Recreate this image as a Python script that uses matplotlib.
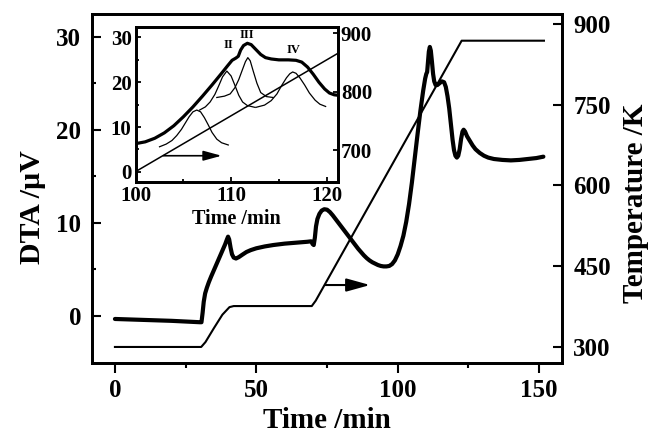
import matplotlib
matplotlib.use("Agg")
import matplotlib.pyplot as plt
from matplotlib.ticker import FixedLocator

plt.rcParams['font.family'] = ['Liberation Serif', 'DejaVu Serif']
plt.rcParams['font.weight'] = 'bold'

# ---------------- main chart data ----------------
dta_time = [0, 10, 20, 30, 30.6, 31.0, 31.4, 31.9, 32.5, 33.2, 34, 35, 36, 37, 38, 39,
            39.6, 40.0, 40.4, 40.9, 41.4, 42, 42.8, 43.8, 45, 46.5, 48, 50, 53, 56, 60,
            64, 68, 69.4, 69.9, 70.3, 70.7, 71.1, 71.6, 72.3, 73.1, 74, 75, 76, 77, 78,
            79, 80, 81, 82, 83, 84, 85, 86, 87, 88, 89, 90, 91, 92, 93, 94, 95, 96, 97,
            98, 99, 100, 101, 102, 103, 104, 105, 106, 107, 108, 109, 109.7, 110.1,
            110.4, 110.7, 111.0, 111.35, 111.7, 112.1, 112.5, 112.9, 113.4, 114, 114.8,
            115.6, 116.4, 117, 117.6, 118.2, 118.8, 119.4, 119.9, 120.4, 120.9, 121.4,
            121.9, 122.4, 122.9, 123.3, 123.8, 124.5, 125.5, 126.5, 127.5, 129, 130.5,
            132, 134, 137, 140, 143, 146, 149, 151.5]
dta_value = [-0.35, -0.45, -0.55, -0.7, -0.7, 0.3, 1.5, 2.4, 3.0, 3.6, 4.2, 4.9, 5.6, 6.3,
             7.0, 7.7, 8.2, 8.5, 8.2, 7.3, 6.6, 6.25, 6.15, 6.3, 6.55, 6.85, 7.05, 7.25,
             7.45, 7.6, 7.75, 7.85, 7.95, 8.0, 7.7, 7.6, 8.4, 9.6, 10.4, 10.95, 11.3,
             11.45, 11.4, 11.15, 10.8, 10.4, 10.0, 9.6, 9.2, 8.8, 8.4, 8.0, 7.6, 7.2,
             6.85, 6.5, 6.2, 5.95, 5.75, 5.6, 5.45, 5.35, 5.3, 5.3, 5.35, 5.55, 5.95,
             6.6, 7.5, 8.6, 10.1, 12.0, 14.3, 16.9, 19.5, 22.0, 24.2, 25.5, 26.0, 26.2,
             27.3, 28.4, 28.9, 28.5, 27.3, 26.0, 25.2, 24.8, 24.8, 25.0, 25.2, 25.1,
             24.6, 23.6, 22.3, 20.6, 18.9, 17.8, 17.2, 17.0, 17.2, 17.9, 19.0, 19.8,
             20.0, 19.8, 19.3, 18.8, 18.3, 17.9, 17.5, 17.2, 17.0, 16.85, 16.75, 16.7,
             16.75, 16.85, 16.95, 17.1]

temp_time = [0, 30.5, 32, 35, 38, 40.5, 42, 69.6, 71, 122.6, 151.7]
temp_value = [300, 300, 309, 335, 360, 374, 376, 376, 386, 869, 869]

main_arrow_x = [74.3, 90.2]
main_arrow_y = 3.3

# ---------------- inset data ----------------
inset_time = [100, 101, 102, 103, 104, 105, 106, 107, 108, 109, 109.6, 110.1, 110.5,
              110.75, 111.0, 111.3, 111.7, 112.1, 112.6, 113.1, 113.6, 114.2, 115, 116,
              116.8, 117.4, 118, 118.6, 119.2, 119.8, 120.3, 120.8, 121.2]
inset_value = [6.3, 6.7, 7.5, 8.7, 10.3, 12.3, 14.5, 16.9, 19.4, 22.0, 23.6, 24.9, 25.4,
               25.8, 27.2, 28.2, 28.7, 28.4, 27.3, 26.2, 25.5, 25.2, 25.0, 25.0, 24.9,
               24.5, 23.4, 21.8, 20.0, 18.5, 17.6, 17.2, 17.1]

peak1_time = [102.5, 103.2, 103.8, 104.3, 104.8, 105.2, 105.6, 106.0, 106.4, 106.8, 107.2,
              107.6, 108.0, 108.5, 109.0, 109.7]
peak1_value = [5.6, 6.2, 7.0, 8.1, 9.5, 10.9, 12.3, 13.4, 13.8, 13.4, 12.1, 10.5, 8.8,
               7.3, 6.5, 6.0]

peak2_time = [106.7, 107.3, 107.8, 108.3, 108.7, 109.1, 109.55, 110.0, 110.4, 110.8,
              111.2, 111.7, 112.5]
peak2_value = [13.8, 14.5, 15.6, 17.3, 19.2, 21.2, 22.5, 21.4, 19.3, 17.1, 15.6, 14.8, 14.4]

peak3_time = [108.5, 109.3, 109.9, 110.4, 110.8, 111.2, 111.5, 111.75, 112.0, 112.3,
              112.7, 113.1, 113.7, 114.4]
peak3_value = [16.6, 16.9, 17.4, 18.8, 20.6, 22.9, 24.6, 25.5, 24.8, 22.6, 19.8, 17.7,
               16.8, 16.6]

peak4_time = [112.6, 113.5, 114.2, 114.8, 115.3, 115.8, 116.15, 116.45, 116.8, 117.2,
              117.7, 118.2, 118.8, 119.3, 119.9]
peak4_value = [14.4, 14.9, 15.9, 17.4, 19.3, 21.0, 21.9, 22.3, 22.0, 21.0, 19.4, 17.6,
               16.0, 15.1, 14.6]

inset_temp_time = [100, 121.2]
inset_temp_value = [663, 866]

inset_arrow_x = [102.9, 109.0]
inset_arrow_y = 3.6

peak_labels = ['II', 'III', 'IV']
peak_label_x = [109.7, 111.6, 116.5]
peak_label_y = [28.3, 30.5, 27.2]

# ---------------- figure ----------------
fig = plt.figure(figsize=(6.57, 4.43), dpi=100)
ax = fig.add_axes([0.1405, 0.1813, 0.7154, 0.7871])
ax2 = ax.twinx()

ax.plot(dta_time, dta_value, color='black', lw=3.0, solid_joinstyle='round',
        solid_capstyle='round', zorder=3)
ax2.plot(temp_time, temp_value, color='black', lw=1.5)

ax.annotate('', xy=(main_arrow_x[1], main_arrow_y), xytext=(main_arrow_x[0], main_arrow_y),
            arrowprops=dict(arrowstyle='-|>,head_length=0.72,head_width=0.2', lw=1.5,
                            color='black', mutation_scale=20, shrinkA=0, shrinkB=0))

ax.set_xlim(-8, 158.2)
ax.set_ylim(-5.05, 32.44)
ax2.set_ylim(270.8, 918.6)

ax.xaxis.set_major_locator(FixedLocator([0, 50, 100, 150]))
ax.xaxis.set_minor_locator(FixedLocator([25, 75, 125]))
ax.yaxis.set_major_locator(FixedLocator([0, 10, 20, 30]))
ax.yaxis.set_minor_locator(FixedLocator([5, 15, 25]))
ax2.yaxis.set_major_locator(FixedLocator([300, 450, 600, 750, 900]))

for a in (ax, ax2):
    for s in a.spines.values():
        s.set_linewidth(2)

ax.tick_params(axis='x', which='major', direction='out', length=7, width=1.5, pad=5, labelsize=18)
ax.tick_params(axis='x', which='minor', direction='out', length=3.5, width=1.5)
ax.tick_params(axis='y', which='major', direction='in', length=6.5, width=1.5, pad=8, labelsize=18)
ax.tick_params(axis='y', which='minor', direction='in', length=3, width=1.5)
ax2.tick_params(axis='y', which='major', direction='in', length=6.5, width=1.5, pad=8, labelsize=18)

ax.set_xlabel('Time /min', fontsize=21, fontweight='bold', labelpad=3)
ax.set_ylabel('DTA /µV', fontsize=21.5, fontweight='bold', labelpad=7)
ax2.set_ylabel('Temperature /K', fontsize=21, fontweight='bold', labelpad=8)
ax.yaxis.label.set_y(0.447)
ax2.yaxis.label.set_y(0.457)

# ---------------- inset ----------------
ins = fig.add_axes([0.2065, 0.5898, 0.3080, 0.3499])
ins.set_facecolor('white')
ins2 = ins.twinx()

ins.plot(inset_time, inset_value, color='black', lw=2.3, solid_joinstyle='round')
for pt, pv in ((peak1_time, peak1_value), (peak2_time, peak2_value),
               (peak3_time, peak3_value), (peak4_time, peak4_value)):
    ins.plot(pt, pv, color='black', lw=0.9)
ins2.plot(inset_temp_time, inset_temp_value, color='black', lw=1.1)

ins.annotate('', xy=(inset_arrow_x[1], inset_arrow_y), xytext=(inset_arrow_x[0], inset_arrow_y),
             arrowprops=dict(arrowstyle='-|>,head_length=0.55,head_width=0.15', lw=1.2,
                             color='black', mutation_scale=20, shrinkA=0, shrinkB=0))

for lab, lx, ly in zip(peak_labels, peak_label_x, peak_label_y):
    ins.text(lx, ly, lab, fontsize=9, fontweight='bold', ha='center', va='center')

ins.set_xlim(100, 121.2)
ins.set_ylim(-2.2, 32.4)
ins2.set_ylim(645.6, 911.5)

ins.xaxis.set_major_locator(FixedLocator([100, 110, 120]))
ins.xaxis.set_minor_locator(FixedLocator([105, 115]))
ins.yaxis.set_major_locator(FixedLocator([0, 10, 20, 30]))
ins.yaxis.set_minor_locator(FixedLocator([5, 15, 25]))
ins2.yaxis.set_major_locator(FixedLocator([700, 800, 900]))

for a in (ins, ins2):
    for s in a.spines.values():
        s.set_linewidth(2)

ins.tick_params(axis='both', which='major', direction='in', length=3.5, width=1.3, labelsize=15)
ins.tick_params(axis='x', which='major', pad=3)
ins.tick_params(axis='y', which='major', pad=3)
ins.tick_params(axis='both', which='minor', direction='in', length=2, width=1.3)
ins2.tick_params(axis='y', which='major', direction='in', length=3.5, width=1.3, pad=2, labelsize=15)

ins.set_xlabel('Time /min', fontsize=14.5, fontweight='bold', labelpad=2)

fig.savefig('out.png', dpi=100)
